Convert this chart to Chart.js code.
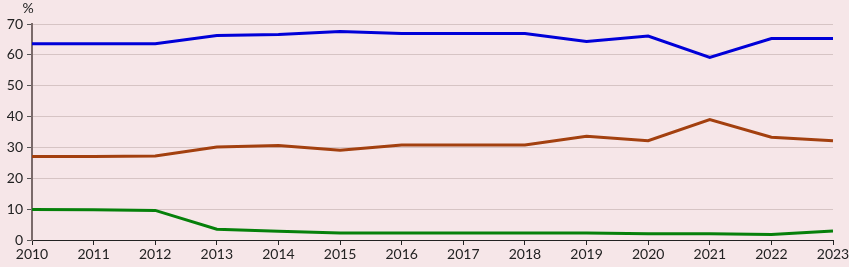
<!DOCTYPE html>
<html>
<head>
<meta charset="utf-8">
<script src="https://cdn.jsdelivr.net/npm/chart.js@4/dist/chart.umd.min.js"></script>
<style>
  html, body { margin: 0; padding: 0; background: #f6e6e8; }
  #wrap { width: 849px; height: 267px; }
</style>
</head>
<body>
<div id="wrap"><canvas id="myChart"></canvas></div>
<script>
const years = ['2010', '2011', '2012', '2013', '2014', '2015', '2016', '2017', '2018', '2019', '2020', '2021', '2022', '2023'];
const blueSeries = [63.6, 63.6, 63.6, 66.3, 66.6, 67.6, 66.9, 66.9, 66.9, 64.3, 66.1, 59.2, 65.3, 65.3];
const brownSeries = [27.1, 27.1, 27.2, 30.1, 30.6, 29.1, 30.8, 30.8, 30.8, 33.6, 32.2, 39.0, 33.3, 32.2];
const greenSeries = [9.9, 9.8, 9.6, 3.5, 2.8, 2.3, 2.3, 2.3, 2.3, 2.3, 2.0, 2.0, 1.8, 2.9];
const yTicks = [0, 10, 20, 30, 40, 50, 60, 70];

const font = { family: 'Lato, "Open Sans", sans-serif', size: 14 };

// draws the "%" unit label above the y axis
const unitLabel = {
  id: 'unitLabel',
  afterDraw(chart) {
    const ctx = chart.ctx;
    ctx.save();
    ctx.font = '14px Lato, sans-serif';
    ctx.fillStyle = '#222';
    ctx.textAlign = 'center';
    ctx.textBaseline = 'middle';
    ctx.fillText('%', chart.chartArea.left - 4, 8);
    ctx.restore();
  }
};

const ctx = document.getElementById('myChart').getContext('2d');
new Chart(ctx, {
  type: 'line',
  data: {
    labels: years,
    datasets: [
      { data: blueSeries, borderColor: '#0000d8', borderWidth: 3, pointRadius: 0, tension: 0 },
      { data: brownSeries, borderColor: '#a3400f', borderWidth: 3, pointRadius: 0, tension: 0 },
      { data: greenSeries, borderColor: '#06800a', borderWidth: 3, pointRadius: 0, tension: 0 }
    ]
  },
  options: {
    responsive: true,
    maintainAspectRatio: false,
    animation: false,
    layout: { padding: { top: 24, right: 16, left: 0, bottom: 0 } },
    plugins: { legend: { display: false }, tooltip: { enabled: false } },
    scales: {
      x: {
        offset: false,
        grid: { drawOnChartArea: false, drawTicks: true, tickLength: 5, tickColor: '#222' },
        border: { color: '#222', width: 1 },
        ticks: { color: '#222', font: font, padding: 1, maxRotation: 0, autoSkip: false },
        afterFit(scale) { scale.height = 27; scale.paddingLeft = 0; scale.paddingRight = 0; }
      },
      y: {
        min: 0,
        max: 70,
        afterBuildTicks(scale) { scale.ticks = yTicks.map(v => ({ value: v })); },
        grid: { color: '#d6c4c4', tickLength: 5, tickColor: '#555' },
        border: { color: '#7a6a6a', width: 2 },
        ticks: { color: '#222', font: font, padding: 4 },
        afterFit(scale) { scale.width = 32; }
      }
    }
  },
  plugins: [unitLabel]
});
</script>
</body>
</html>
